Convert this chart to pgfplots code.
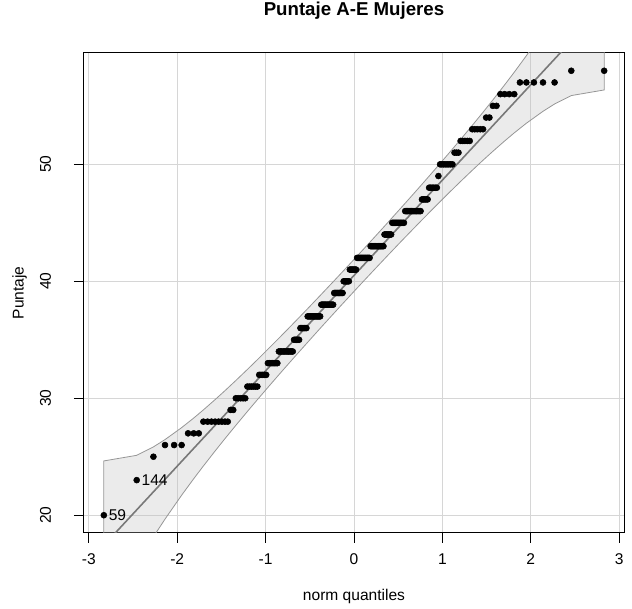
\documentclass[border=0pt]{standalone}
\usepackage{fontspec}
\setmainfont{Liberation Sans}
\usepackage{pgfplots}
\pgfplotsset{compat=1.18}
\usepackage{pgfplotstable}
\definecolor{gridc}{RGB}{214,214,214}
\definecolor{envfill}{RGB}{190,190,190}
\definecolor{envline}{RGB}{150,150,150}
\definecolor{linec}{RGB}{120,120,120}

\pgfplotstableread{
z y
-2.830 20
-2.458 23
-2.269 25
-2.138 26
-2.035 26
-1.950 26
-1.877 27
-1.813 27
-1.756 27
-1.704 28
-1.656 28
-1.612 28
-1.571 28
-1.532 28
-1.495 28
-1.460 28
-1.428 28
-1.396 29
-1.366 29
-1.337 30
-1.309 30
-1.282 30
-1.255 30
-1.230 30
-1.206 31
-1.182 31
-1.159 31
-1.137 31
-1.114 31
-1.093 31
-1.072 32
-1.052 32
-1.032 32
-1.012 32
-0.993 32
-0.974 33
-0.955 33
-0.937 33
-0.919 33
-0.902 33
-0.884 33
-0.867 33
-0.850 34
-0.833 34
-0.817 34
-0.801 34
-0.785 34
-0.769 34
-0.753 34
-0.738 34
-0.723 34
-0.708 34
-0.693 34
-0.678 35
-0.664 35
-0.649 35
-0.635 35
-0.621 35
-0.606 36
-0.593 36
-0.579 36
-0.565 36
-0.552 36
-0.538 36
-0.524 37
-0.511 37
-0.498 37
-0.485 37
-0.472 37
-0.459 37
-0.446 37
-0.433 37
-0.420 37
-0.408 37
-0.395 37
-0.383 37
-0.370 38
-0.358 38
-0.345 38
-0.333 38
-0.321 38
-0.308 38
-0.296 38
-0.284 38
-0.272 38
-0.260 38
-0.248 38
-0.236 38
-0.224 39
-0.212 39
-0.200 39
-0.188 39
-0.176 39
-0.164 39
-0.152 39
-0.140 39
-0.129 39
-0.117 40
-0.105 40
-0.093 40
-0.082 40
-0.070 40
-0.058 40
-0.047 41
-0.035 41
-0.023 41
-0.012 41
0.000 41
0.012 41
0.023 41
0.035 42
0.047 42
0.058 42
0.070 42
0.082 42
0.093 42
0.105 42
0.117 42
0.129 42
0.140 42
0.152 42
0.164 42
0.176 42
0.188 43
0.200 43
0.212 43
0.224 43
0.236 43
0.248 43
0.260 43
0.272 43
0.284 43
0.296 43
0.308 43
0.321 43
0.333 43
0.345 44
0.358 44
0.370 44
0.383 44
0.395 44
0.408 44
0.420 44
0.433 45
0.446 45
0.459 45
0.472 45
0.485 45
0.498 45
0.511 45
0.524 45
0.538 45
0.552 45
0.565 45
0.579 46
0.593 46
0.606 46
0.621 46
0.635 46
0.649 46
0.664 46
0.678 46
0.693 46
0.708 46
0.723 46
0.738 46
0.753 46
0.769 47
0.785 47
0.801 47
0.817 47
0.833 47
0.850 48
0.867 48
0.884 48
0.902 48
0.919 48
0.937 48
0.955 49
0.974 50
0.993 50
1.012 50
1.032 50
1.052 50
1.072 50
1.093 50
1.114 50
1.137 51
1.159 51
1.182 51
1.206 52
1.230 52
1.255 52
1.282 52
1.309 52
1.337 53
1.366 53
1.396 53
1.428 53
1.460 53
1.495 54
1.532 54
1.571 55
1.612 55
1.656 56
1.704 56
1.756 56
1.813 56
1.877 57
1.950 57
2.035 57
2.138 57
2.269 57
2.458 58
2.830 58
}\qqdata

\begin{document}
\fontsize{11.67}{14}\selectfont
\begin{tikzpicture}
\useasboundingbox (0,0) rectangle (474pt,456.75pt);
\begin{axis}[
  at={(62.625pt,57pt)}, anchor=south west,
  width=405.75pt, height=360pt, scale only axis,
  xmin=-3.06, xmax=3.06, ymin=18.48, ymax=59.52,
  xtick={-3,-2,-1,0,1,2,3}, xticklabels={-3,-2,-1,0,1,2,3},
  ytick={20,30,40,50}, yticklabels={20,30,40,50},
  xtick pos=bottom, ytick pos=left,
  tick align=outside, major tick length=7.2pt,
  tick style={black, line width=0.75pt},
  axis line style={black, line width=0.75pt},
  grid=major, grid style={gridc, line width=0.75pt},
  xticklabel style={anchor=base, yshift=-16.5pt},
  yticklabel style={xshift=-17.2pt, rotate=90, anchor=base},
  xlabel={norm quantiles}, ylabel={Puntaje}, title={Puntaje A-E Mujeres},
  xlabel style={at={(axis description cs:0.5,-0.1411)}, anchor=base},
  ylabel style={at={(axis description cs:-0.1109,0.5)}, anchor=base},
  title style={at={(axis description cs:0.5,1.0619)}, anchor=base, font=\fontsize{14}{17}\selectfont\bfseries},
  clip=true,
]
\addplot[draw=envline, line width=0.6pt, fill=envfill, fill opacity=0.3] coordinates {
(-2.830,24.641) (-2.458,25.121) (-2.269,25.841) (-2.138,26.465) (-1.950,27.487) (-1.813,28.309) (-1.704,29.003) (-1.571,29.886) (-1.460,30.646) (-1.337,31.516) (-1.206,32.462) (-1.093,33.295) (-0.974,34.188) (-0.850,35.131) (-0.738,35.992) (-0.621,36.903) (-0.524,37.661) (-0.383,38.780) (-0.248,39.860) (-0.117,40.915) (0,41.866) (0.117,42.823) (0.248,43.904) (0.383,45.026) (0.524,46.213) (0.621,47.031) (0.738,48.028) (0.850,48.993) (0.974,50.072) (1.093,51.121) (1.206,52.130) (1.337,53.320) (1.460,54.456) (1.571,55.506) (1.704,56.793) (1.813,57.877) (1.950,59.289) (2.138,61.333) (2.269,62.845) (2.458,65.207) (2.830,70.795)
(2.830,56.359) (2.458,55.879) (2.269,55.159) (2.138,54.535) (1.950,53.513) (1.813,52.691) (1.704,51.997) (1.571,51.114) (1.460,50.354) (1.337,49.484) (1.206,48.538) (1.093,47.705) (0.974,46.812) (0.850,45.869) (0.738,45.008) (0.621,44.097) (0.524,43.339) (0.383,42.220) (0.248,41.140) (0.117,40.085) (0,39.134) (-0.117,38.177) (-0.248,37.096) (-0.383,35.974) (-0.524,34.787) (-0.621,33.969) (-0.738,32.972) (-0.850,32.007) (-0.974,30.928) (-1.093,29.879) (-1.206,28.870) (-1.337,27.680) (-1.460,26.544) (-1.571,25.494) (-1.704,24.207) (-1.813,23.123) (-1.950,21.711) (-2.138,19.667) (-2.269,18.155) (-2.458,15.793) (-2.830,10.205)
} -- cycle;
\addplot[linec, line width=1.2pt] coordinates {(-3.06,15.548) (3.06,65.452)};
\addplot[only marks, mark=*, mark size=2.25pt, black] table[x=z, y=y] {\qqdata};
\node[anchor=west, inner sep=0pt, xshift=3.5pt] at (axis cs:-2.830,20) {59};
\node[anchor=west, inner sep=0pt, xshift=3.5pt] at (axis cs:-2.458,23) {144};
\end{axis}
\end{tikzpicture}
\end{document}
